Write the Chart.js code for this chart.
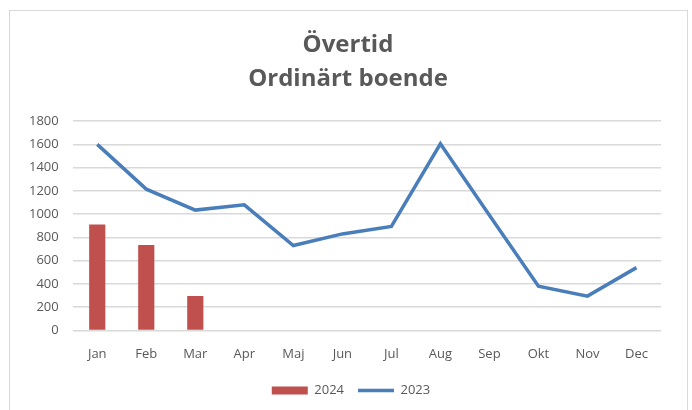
<!DOCTYPE html>
<html lang="sv">
<head>
    <meta charset="UTF-8">
    <title>Övertid - Ordinärt boende</title>
    <script src="https://cdn.jsdelivr.net/npm/chart.js"></script>
    <style>
        html, body {
            margin: 0;
            padding: 0;
            background-color: #ffffff;
        }
        #wrap {
            position: relative;
            width: 692px;
            height: 410px;
        }
        #frame {
            position: absolute;
            left: 9px;
            top: 10px;
            width: 677px;
            height: 410px;
            border: 1px solid #d9d9d9;
            border-bottom: none;
            pointer-events: none;
        }
    </style>
</head>
<body>
    <div id="wrap">
        <canvas id="chart1" width="692" height="410"></canvas>
        <div id="frame"></div>
    </div>

    <script>
        // Data
        const manader = ['Jan', 'Feb', 'Mar', 'Apr', 'Maj', 'Jun', 'Jul', 'Aug', 'Sep', 'Okt', 'Nov', 'Dec'];
        const overtid2024 = [910, 735, 295, null, null, null, null, null, null, null, null, null];
        const overtid2023 = [1600, 1215, 1035, 1080, 730, 830, 895, 1605, 990, 380, 295, 540];
        const yTicks = [0, 200, 400, 600, 800, 1000, 1200, 1400, 1600, 1800];

        const textColor = '#595959';
        const gridColor = '#d9d9d9';

        // centre title and legend on the framed box, not on the padded chart area
        const centreBlocks = {
            id: 'centreBlocks',
            beforeDraw(chart) {
                if (chart.titleBlock) {
                    chart.titleBlock.left = 9;
                    chart.titleBlock.right = 687;
                }
                if (chart.legend) {
                    chart.legend.left = 15;
                    chart.legend.right = 687;
                }
            }
        };

        const ctx = document.getElementById('chart1').getContext('2d');
        new Chart(ctx, {
            type: 'bar',
            data: {
                labels: manader,
                datasets: [{
                    label: '2024',
                    data: overtid2024,
                    backgroundColor: '#c0504d',
                    borderWidth: 0,
                    pointStyle: 'rect',
                    barPercentage: 0.66,
                    categoryPercentage: 0.5,
                    order: 2
                }, {
                    type: 'line',
                    label: '2023',
                    data: overtid2023,
                    borderColor: '#4a7ebb',
                    backgroundColor: '#4a7ebb',
                    borderWidth: 3.5,
                    pointRadius: 0,
                    pointStyle: 'line',
                    tension: 0,
                    fill: false,
                    order: 1
                }]
            },
            options: {
                responsive: false,
                animation: false,
                layout: {
                    padding: { left: 15, right: 31, top: 14, bottom: 3 }
                },
                scales: {
                    y: {
                        min: 0,
                        max: 1800,
                        afterBuildTicks: axis => {
                            axis.ticks = yTicks.map(v => ({ value: v }));
                        },
                        border: { display: false },
                        grid: {
                            color: gridColor,
                            lineWidth: 1.5,
                            drawTicks: false
                        },
                        ticks: {
                            color: textColor,
                            padding: 14,
                            callback: v => String(v),
                            font: { family: 'Open Sans', size: 13 }
                        }
                    },
                    x: {
                        border: { display: false },
                        grid: { display: false },
                        ticks: {
                            color: textColor,
                            padding: 8,
                            font: { family: 'Open Sans', size: 13 }
                        }
                    }
                },
                plugins: {
                    title: {
                        display: true,
                        text: ['Övertid', 'Ordinärt boende'],
                        color: textColor,
                        font: { family: 'Open Sans', size: 24, weight: 'bold', lineHeight: 1.42 },
                        padding: { top: 14, bottom: 25 }
                    },
                    legend: {
                        position: 'bottom',
                        labels: {
                            color: textColor,
                            usePointStyle: true,
                            pointStyleWidth: 36,
                            boxHeight: 8,
                            padding: 14,
                            sort: (a, b) => a.datasetIndex - b.datasetIndex,
                            font: { family: 'Open Sans', size: 13 }
                        }
                    },
                    tooltip: { enabled: false }
                }
            },
            plugins: [centreBlocks]
        });
    </script>
</body>
</html>
